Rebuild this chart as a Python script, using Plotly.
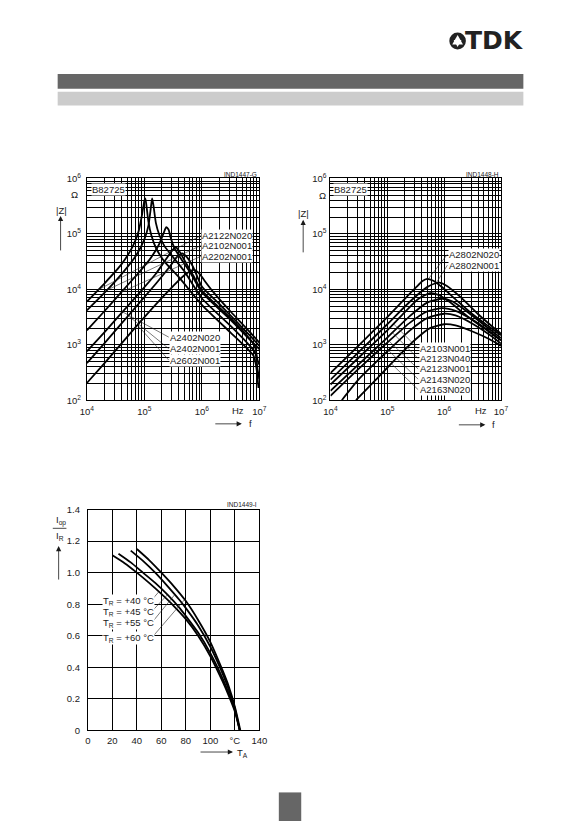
import numpy as np
import plotly.graph_objects as go

W, H = 583, 826
FONT = "Liberation Sans"

# ---------------- Chart 1: |Z| vs f (log10 values) ----------------
c1_names = ["A2122N020", "A2102N001", "A2202N001", "A2402N020", "A2402N001", "A2602N001"]
c1_logf = [
    [4.0, 4.3, 4.6, 4.8, 4.9, 4.96, 5.0, 5.015, 5.035, 5.07, 5.12, 5.2, 5.35, 5.6, 6.0, 6.5, 6.8, 6.9, 6.95, 6.985],
    [4.0, 4.3, 4.6, 4.85, 5.0, 5.07, 5.11, 5.135, 5.16, 5.2, 5.26, 5.35, 5.5, 5.7, 6.0, 6.5, 6.8, 6.93, 6.97, 7.0],
    [4.0, 4.3, 4.6, 4.9, 5.1, 5.25, 5.33, 5.38, 5.42, 5.46, 5.52, 5.62, 5.8, 6.0, 6.5, 6.8, 7.0],
    [4.0, 4.3, 4.6, 4.9, 5.2, 5.4, 5.5, 5.54, 5.6, 5.7, 5.85, 6.0, 6.5, 6.8, 6.92, 6.97, 7.0],
    [4.0, 4.3, 4.6, 4.9, 5.2, 5.45, 5.58, 5.66, 5.74, 5.85, 6.0, 6.3, 6.6, 6.85, 7.0],
    [4.0, 4.3, 4.6, 4.9, 5.2, 5.5, 5.7, 5.86, 5.96, 6.05, 6.2, 6.5, 6.8, 7.0],
]
c1_logz = [
    [3.78, 4.10, 4.45, 4.78, 5.05, 5.35, 5.60, 5.64, 5.52, 5.22, 4.98, 4.75, 4.50, 4.22, 3.72, 3.22, 2.92, 2.80, 2.58, 2.22],
    [3.62, 3.93, 4.27, 4.60, 4.90, 5.15, 5.45, 5.64, 5.50, 5.20, 4.98, 4.78, 4.58, 4.32, 3.84, 3.34, 3.02, 2.85, 2.55, 2.38],
    [3.26, 3.60, 3.95, 4.30, 4.55, 4.80, 5.00, 5.12, 5.08, 4.92, 4.75, 4.58, 4.30, 3.95, 3.45, 3.13, 2.92],
    [2.88, 3.22, 3.57, 3.92, 4.28, 4.58, 4.72, 4.76, 4.70, 4.52, 4.25, 3.98, 3.48, 3.15, 2.98, 2.72, 2.64],
    [2.67, 3.02, 3.38, 3.74, 4.10, 4.42, 4.60, 4.65, 4.58, 4.40, 4.05, 3.74, 3.42, 3.15, 2.98],
    [2.31, 2.66, 3.02, 3.38, 3.73, 4.06, 4.26, 4.35, 4.28, 4.15, 3.95, 3.60, 3.27, 3.04],
]

# ---------------- Chart 2: |Z| vs f ----------------
c2_names = ["A2802N020", "A2802N001", "A2103N001", "A2123N040", "A2123N001", "A2143N020", "A2163N020"]
c2_logf = [
    [4.0, 4.5, 5.0, 5.3, 5.5, 5.62, 5.70, 5.80, 5.95, 6.2, 6.5, 6.8, 7.0],
    [4.0, 4.5, 5.0, 5.4, 5.7, 5.85, 5.92, 6.05, 6.3, 6.6, 6.8, 7.0],
    [4.0, 4.5, 5.0, 5.3, 5.55, 5.75, 5.9, 6.1, 6.4, 6.7, 7.0],
    [4.0, 4.5, 5.0, 5.4, 5.7, 5.97, 6.15, 6.4, 6.7, 7.0],
    [4.0, 4.5, 5.0, 5.4, 5.7, 5.97, 6.2, 6.5, 6.8, 7.0],
    [4.2, 4.5, 5.0, 5.4, 5.7, 6.0, 6.2, 6.5, 6.8, 7.0],
    [4.45, 4.8, 5.2, 5.5, 5.75, 6.0, 6.2, 6.5, 6.8, 7.0],
]
c2_logz = [
    [2.49, 2.99, 3.50, 3.82, 4.03, 4.15, 4.19, 4.16, 4.05, 3.82, 3.55, 3.32, 3.17],
    [2.37, 2.87, 3.37, 3.78, 4.04, 4.11, 4.12, 4.06, 3.85, 3.55, 3.37, 3.20],
    [2.28, 2.77, 3.26, 3.58, 3.83, 3.93, 3.90, 3.77, 3.52, 3.30, 3.08],
    [2.17, 2.65, 3.13, 3.52, 3.76, 3.83, 3.78, 3.60, 3.36, 3.12],
    [2.08, 2.57, 3.04, 3.40, 3.60, 3.66, 3.61, 3.45, 3.24, 3.08],
    [2.00, 2.38, 2.88, 3.26, 3.48, 3.56, 3.53, 3.38, 3.18, 3.02],
    [2.00, 2.37, 2.80, 3.10, 3.30, 3.37, 3.35, 3.24, 3.10, 2.98],
]

# ---------------- Chart 3: Iop/IR vs TA ----------------
c3_names = ["+40", "+45", "+55", "+60"]
c3_ta = [
    [20, 30, 40, 50, 60, 70, 80, 90, 100, 110, 115, 120, 124],
    [25, 35, 45, 55, 65, 75, 80, 90, 100, 110, 115, 120, 124],
    [35, 45, 55, 65, 75, 80, 90, 100, 110, 115, 120, 124],
    [40, 50, 60, 70, 80, 90, 100, 110, 115, 120, 124.5],
]
c3_ratio = [
    [1.11, 1.06, 1.00, 0.935, 0.865, 0.79, 0.705, 0.60, 0.47, 0.31, 0.22, 0.12, 0.0],
    [1.12, 1.065, 1.00, 0.935, 0.86, 0.775, 0.725, 0.62, 0.49, 0.33, 0.235, 0.13, 0.0],
    [1.14, 1.075, 1.00, 0.915, 0.825, 0.775, 0.665, 0.53, 0.36, 0.26, 0.14, 0.0],
    [1.15, 1.08, 1.00, 0.915, 0.82, 0.70, 0.56, 0.38, 0.28, 0.15, 0.0],
]

x_ticks_f = ["10<sup>4</sup>", "10<sup>5</sup>", "10<sup>6</sup>", "10<sup>7</sup>"]
y_ticks_z = ["10<sup>2</sup>", "10<sup>3</sup>", "10<sup>4</sup>", "10<sup>5</sup>", "10<sup>6</sup>"]
x_ticks_t = ["0", "20", "40", "60", "80", "100", "°C", "140"]
y_ticks_r = ["0", "0.2", "0.4", "0.6", "0.8", "1.0", "1.2", "1.4"]


def px(x):
    return x / W


def py(y):
    return 1 - y / H


fig = go.Figure()

CURVE = dict(color="black", width=1.8, shape="spline", smoothing=0.6)
LEAD = dict(color="#222", width=0.6)

for lf, lz in zip(c1_logf, c1_logz):
    fig.add_trace(go.Scatter(x=10 ** np.array(lf), y=10 ** np.array(lz), mode="lines",
                             line=CURVE, xaxis="x", yaxis="y", hoverinfo="skip"))
for lf, lz in zip(c2_logf, c2_logz):
    fig.add_trace(go.Scatter(x=10 ** np.array(lf), y=10 ** np.array(lz), mode="lines",
                             line=CURVE, xaxis="x2", yaxis="y2", hoverinfo="skip"))
for t, r in zip(c3_ta, c3_ratio):
    fig.add_trace(go.Scatter(x=t, y=r, mode="lines", line=CURVE,
                             xaxis="x3", yaxis="y3", hoverinfo="skip"))


# ---------- leader lines (label -> curve) ----------
def lead_log(ax, ay, lf_list, lz_list, idx, at_lf, xa, ya):
    z = np.interp(at_lf, lf_list[idx], lz_list[idx])
    fig.add_trace(go.Scatter(x=[10 ** ax, 10 ** at_lf], y=[10 ** ay, 10 ** z], mode="lines",
                             line=LEAD, xaxis=xa, yaxis=ya, hoverinfo="skip"))


def lz1(ypx):
    return 6 - (ypx - 174) / 56.25


def lf1(xpx, x0):
    return 4 + (xpx - x0) / ((259 - 82) / 3 if x0 == 82 else (507 - 332) / 3)


for i, (ylab, at) in enumerate([(232, 4.2), (242, 4.35), (253, 4.6)]):
    lead_log(lf1(199, 82), lz1(ylab), c1_logf, c1_logz, i, at, "x", "y")
for i, (ylab, at) in zip([3, 4, 5], [(335, 4.62), (346.7, 4.72), (358.3, 4.88)]):
    lead_log(lf1(166, 82), lz1(ylab), c1_logf, c1_logz, i, at, "x", "y")
for i, (ylab, at) in enumerate([(251, 5.72), (262, 5.86)]):
    lead_log(lf1(452, 332), lz1(ylab), c2_logf, c2_logz, i, at, "x2", "y2")
for i, (ylab, at) in zip([2, 3, 4, 5, 6], [(346.7, 5.11), (356.7, 5.09), (367.3, 5.03), (377.7, 5.02), (388.3, 5.07)]):
    lead_log(lf1(422, 332), lz1(ylab), c2_logf, c2_logz, i, at, "x2", "y2")
for i, (ylab, at) in enumerate([(602.3, 58), (614, 65), (625.5, 71), (640.7, 79)]):
    r = np.interp(at, c3_ta[i], c3_ratio[i])
    fig.add_trace(go.Scatter(x=[(148 - 83) / (176 / 140), at], y=[(734 - ylab) / 160, r], mode="lines",
                             line=LEAD, xaxis="x3", yaxis="y3", hoverinfo="skip"))

# ---------- axes ----------
dec_x = [1e4, 1e5, 1e6, 1e7]
dec_y = [1e2, 1e3, 1e4, 1e5, 1e6]
minor_x = [m * 10 ** e for e in range(4, 7) for m in range(2, 10)]
minor_y = [m * 10 ** e for e in range(2, 6) for m in range(2, 10)]

TF = dict(family=FONT, size=9.5, color="#1a1a1a")
common = dict(showline=True, mirror=True, linecolor="black", linewidth=1, showgrid=True,
              gridcolor="black", gridwidth=0.7, zeroline=False, ticks="", tickfont=TF, fixedrange=True)
MINX = dict(tickvals=minor_x, showgrid=True, gridcolor="black", gridwidth=0.7, ticks="")
MINY = dict(tickvals=minor_y, showgrid=True, gridcolor="black", gridwidth=0.7, ticks="")

dom_y12 = [py(399), py(174)]
fig.update_layout(
    xaxis=dict(type="log", range=[4, 7], domain=[px(82), px(259)], anchor="y",
               tickvals=dec_x, ticktext=x_ticks_f, ticklabelstandoff=2, minor=MINX, **common),
    yaxis=dict(type="log", range=[2, 6], domain=dom_y12, anchor="x",
               tickvals=dec_y, ticktext=y_ticks_z, ticklabelstandoff=3, minor=MINY, **common),
    xaxis2=dict(type="log", range=[4, 7], domain=[px(332), px(507)], anchor="y2",
                tickvals=dec_x, ticktext=x_ticks_f, ticklabelstandoff=2, minor=MINX, **common),
    yaxis2=dict(type="log", range=[2, 6], domain=dom_y12, anchor="x2",
                tickvals=dec_y, ticktext=y_ticks_z, ticklabelstandoff=1, minor=MINY, **common),
    xaxis3=dict(range=[0, 140], domain=[px(83), px(259)], anchor="y3",
                tickvals=list(range(0, 141, 20)), ticktext=x_ticks_t, ticklabelstandoff=1, **common),
    yaxis3=dict(range=[0, 1.4], domain=[py(734), py(510)], anchor="x3",
                tickvals=[i * 0.2 for i in range(8)], ticktext=y_ticks_r, ticklabelstandoff=5, **common),
    autosize=True, margin=dict(l=0, r=0, t=0, b=0, pad=0),
    paper_bgcolor="white", plot_bgcolor="white", showlegend=False,
    font=dict(family=FONT, color="#1a1a1a"),
)

anns = []


def text(t, x, y, xa="center", ya="middle", size=9.5, bg=None, bold=False, family=FONT, color="#1a1a1a"):
    d = dict(text=("<b>%s</b>" % t) if bold else t, x=px(x), y=py(y), xref="paper", yref="paper",
             xanchor=xa, yanchor=ya, showarrow=False, font=dict(family=family, size=size, color=color))
    if bg:
        d.update(bgcolor=bg, borderpad=0)
    anns.append(d)


def arrow(x0, y0, x1, y1):
    anns.append(dict(text="", x=px(x1), y=py(y1), xref="paper", yref="paper", showarrow=True,
                     ax=x0 - x1, ay=y0 - y1, arrowhead=2, arrowsize=1.3, arrowwidth=0.8,
                     arrowcolor="#1a1a1a"))


# chart 1 texts
text("IND1447-G", 259, 170, xa="right", size=6.5)
text("B82725", 104, 185, size=9.5, bg="white")
text("Ω", 69.5, 190, size=9.5)
text("|Z|", 56, 207, size=9.5)
arrow(55, 248, 55, 212)
text("Hz", 237, 409, size=9.5)
arrow(213, 423, 241, 423)
text("f", 246, 423, xa="left", size=9.5)
for name, ylab in zip(c1_names[:3], [232, 242, 253]):
    text(name, 199, ylab, xa="left", bg="white")
for name, ylab in zip(c1_names[3:], [335, 346.7, 358.3]):
    text(name, 166, ylab, xa="left", bg="white")

# chart 2 texts
text("IND1448-H", 507, 170, xa="right", size=6.5)
text("B82725", 353, 185, size=9.5, bg="white")
text("Ω", 324, 191, size=9.5)
text("|Z|", 304, 210, size=9.5)
arrow(304, 250, 304, 216)
text("Hz", 487, 409, size=9.5)
arrow(463, 424, 491, 424)
text("f", 496, 424, xa="left", size=9.5)
for name, ylab in zip(c2_names[:2], [251, 262]):
    text(name, 453, ylab, xa="left", bg="white")
for name, ylab in zip(c2_names[2:], [346.7, 356.7, 367.3, 377.7, 388.3]):
    text(name, 423, ylab, xa="left", bg="white")

# chart 3 texts
text("IND1449-I", 259, 505, xa="right", size=6.5)
text("I<sub>op</sub>", 48, 521, xa="left", size=9.5)
text("I<sub>R</sub>", 48, 537, xa="left", size=9.5)
arrow(53, 582, 53, 547)
arrow(198, 756, 232, 756)
text("T<sub>A</sub>", 234, 757, xa="left", size=9.5)
for name, ylab in zip(c3_names, [602.3, 614, 625.5, 640.7]):
    text("T<sub>R</sub> = %s °C" % name, 97, ylab, xa="left", bg="white")

# header logo
text("TDK", 533, 34, xa="right", size=25, bold=True, family="DejaVu Sans", color="#222")

fig.update_layout(annotations=anns)

shapes = [
    dict(type="rect", xref="paper", yref="paper", x0=px(52), x1=px(530), y0=py(83), y1=py(68),
         fillcolor="#666666", line=dict(width=0)),
    dict(type="rect", xref="paper", yref="paper", x0=px(52), x1=px(530), y0=py(100), y1=py(86),
         fillcolor="#cccccc", line=dict(width=0)),
    dict(type="rect", xref="paper", yref="paper", x0=px(279), x1=px(302), y0=py(826), y1=py(797),
         fillcolor="#666666", line=dict(width=0)),
    dict(type="line", xref="paper", yref="paper", x0=px(47), x1=px(61), y0=py(529), y1=py(529),
         line=dict(color="#1a1a1a", width=0.8)),
    dict(type="circle", xref="paper", yref="paper", x0=px(454), x1=px(471), y0=py(43), y1=py(26),
         fillcolor="#222", line=dict(width=0)),
]


def tri(pts):
    s = "M " + " L ".join("%.5f,%.5f" % (px(a), py(b)) for a, b in pts) + " Z"
    return dict(type="path", xref="paper", yref="paper", path=s, fillcolor="white", line=dict(width=0))


shapes.append(tri([(462.5, 28.5), (468, 38), (457, 38)]))
shapes.append(tri([(462.5, 40.5), (458.5, 33.5), (466.5, 33.5)]))
fig.update_layout(shapes=shapes)

post = ("document.documentElement.style.margin='0';document.documentElement.style.height='100%';"
        "document.body.style.margin='0';document.body.style.height='100%';document.body.style.overflow='hidden';"
        "var gd=document.getElementById('{plot_id}');gd.style.width='100vw';gd.style.height='100vh';"
        "Plotly.Plots.resize(gd);")
fig.write_html("out.html", config={"displayModeBar": False, "responsive": True},
               default_width="100vw", default_height="100vh", post_script=post)
